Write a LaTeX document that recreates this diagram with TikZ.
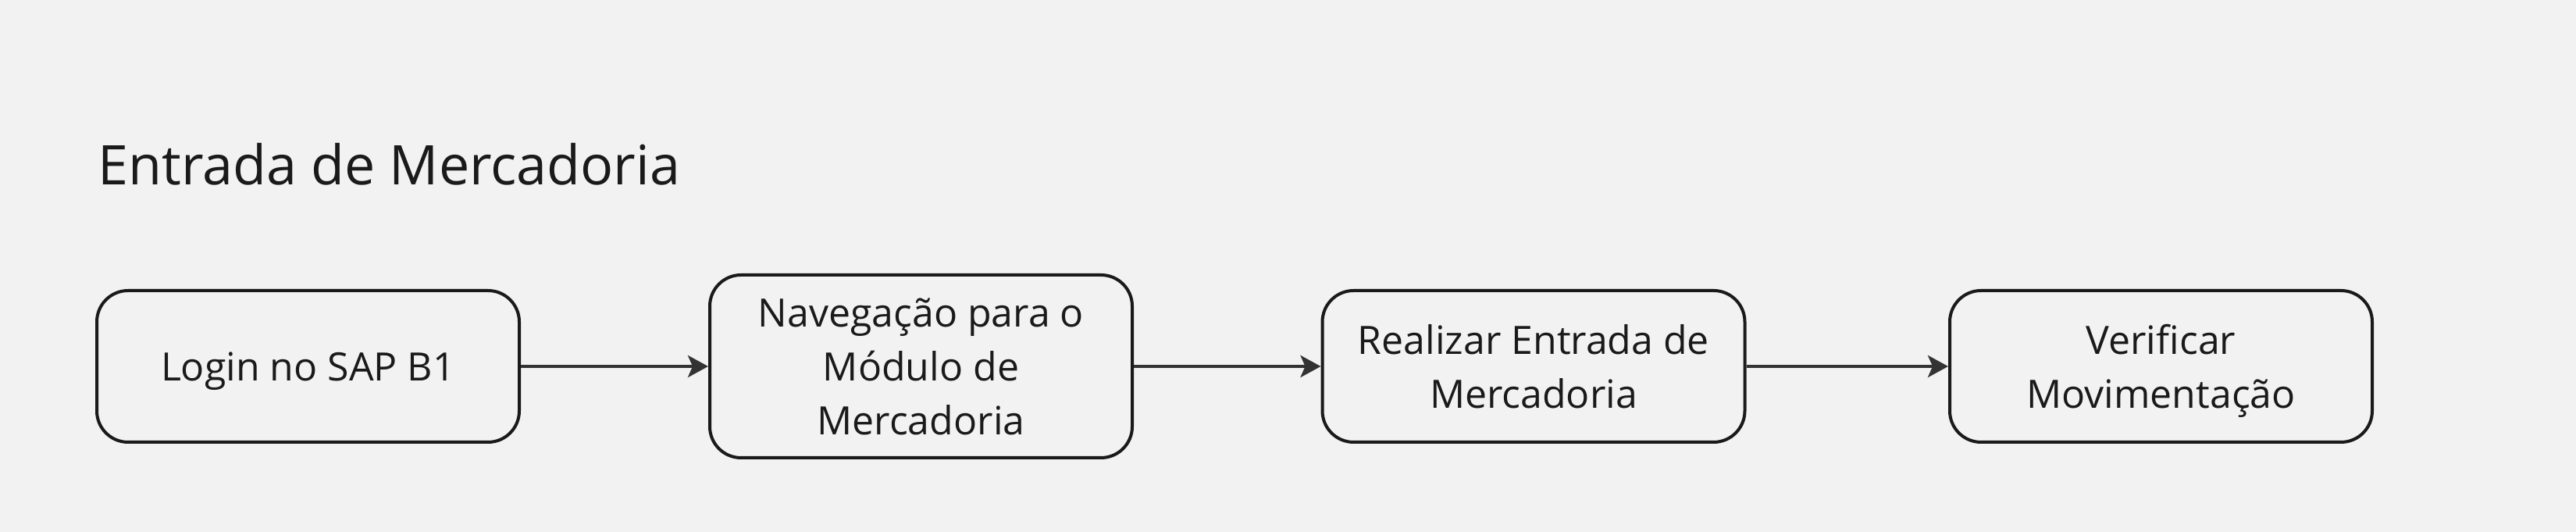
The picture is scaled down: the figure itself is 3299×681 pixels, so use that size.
\documentclass[tikz,border=0pt]{standalone}
\usepackage{fontspec}
\setmainfont{Open Sans}
\usetikzlibrary{arrows.meta}
\definecolor{fundo}{HTML}{F2F2F2}
\definecolor{contorno}{HTML}{1A1A1A}
\definecolor{seta}{HTML}{333333}

\begin{document}
\begin{tikzpicture}[x=0.25pt,y=-0.25pt,
  etapa/.style={draw=contorno,line width=1pt,rounded corners=10pt,
    minimum width=135.25pt,align=center,text=contorno,inner sep=0pt,
    text depth=0pt,font=\fontsize{12.5}{17.3}\selectfont},
  fluxo/.style={-{Stealth[length=6.5pt,width=7pt,inset=1.5pt]},draw=seta,line width=1pt}]
\fill[fundo](0,0) rectangle (3299,681);
\useasboundingbox(0,0) rectangle (3299,681);
\node[anchor=base west,inner sep=0pt,text=contorno,
  font=\fontsize{17.5}{21}\selectfont](titulo) at (125,237){Entrada de Mercadoria};
\node[etapa,minimum height=48.5pt](login) at (394.5,469){Login no SAP B1};
\node[etapa,minimum height=58.5pt](navegacao) at (1179.5,469){Navegação para o\\Módulo de\\Mercadoria};
\node[etapa,minimum height=48.5pt](entrada) at (1964,469){Realizar Entrada de\\Mercadoria};
\node[etapa,minimum height=48.5pt](verificar) at (2767.5,469){Verificar\\Movimentação};
\draw[fluxo](login)--(navegacao);
\draw[fluxo](navegacao)--(entrada);
\draw[fluxo](entrada)--(verificar);
\end{tikzpicture}
\end{document}
